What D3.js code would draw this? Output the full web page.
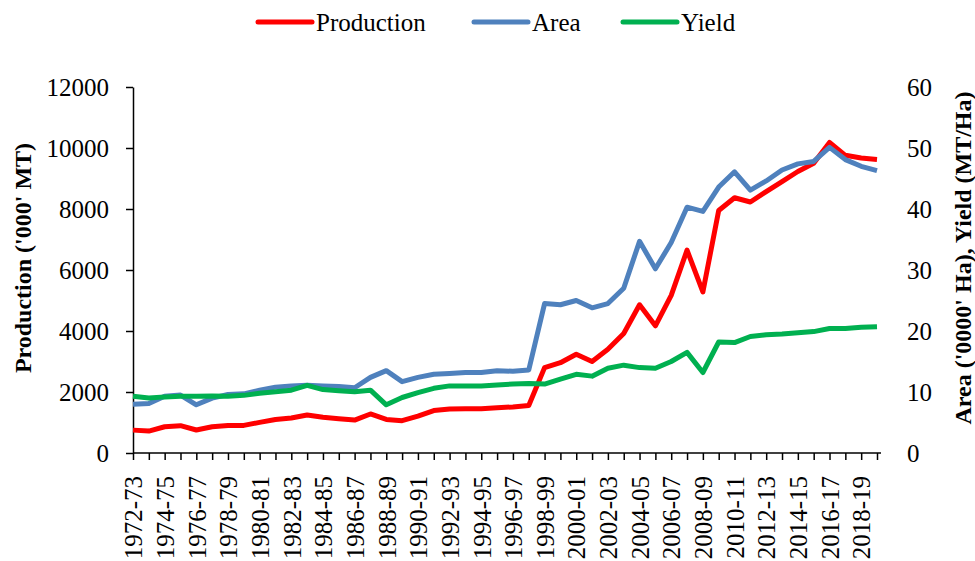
<!DOCTYPE html>
<html>
<head>
<meta charset="utf-8">
<script src="https://cdn.jsdelivr.net/npm/d3@7"></script>
<style>
  body { margin: 0; background: #fff; }
  text { font-family: "Liberation Serif", "Times New Roman", serif; fill: #000; }
</style>
</head>
<body>
<svg id="canvas"></svg>
<script>
// Category labels (crop years).
var years = [
  '1972-73', '1973-74', '1974-75', '1975-76', '1976-77', '1977-78', '1978-79', '1979-80',
  '1980-81', '1981-82', '1982-83', '1983-84', '1984-85', '1985-86', '1986-87', '1987-88',
  '1988-89', '1989-90', '1990-91', '1991-92', '1992-93', '1993-94', '1994-95', '1995-96',
  '1996-97', '1997-98', '1998-99', '1999-00', '2000-01', '2001-02', '2002-03', '2003-04',
  '2004-05', '2005-06', '2006-07', '2007-08', '2008-09', '2009-10', '2010-11', '2011-12',
  '2012-13', '2013-14', '2014-15', '2015-16', '2016-17', '2017-18', '2018-19', '2019-20'
];

// Production ('000' MT), left axis.
var production = [
  750, 720, 860, 895, 755, 860, 905, 905, 1005, 1100, 1145, 1245, 1170, 1125, 1080, 1280,
  1100, 1060, 1210, 1390, 1440, 1450, 1450, 1480, 1510, 1560, 2800, 2960, 3240, 3000, 3400, 3920,
  4860, 4170, 5170, 6650, 5280, 7950, 8370, 8230, 8570, 8900, 9230, 9500, 10180, 9760, 9670, 9620
];

// Area ('0000' Ha), right axis.
var area = [
  8.0, 8.1, 9.3, 9.5, 7.9, 9.0, 9.6, 9.7, 10.3, 10.8, 11.0, 11.1, 11.0, 10.9, 10.7, 12.4,
  13.5, 11.7, 12.4, 12.9, 13.05, 13.2, 13.2, 13.5, 13.4, 13.6, 24.5, 24.3, 25.0, 23.8, 24.5, 27.0,
  34.7, 30.2, 34.5, 40.3, 39.6, 43.6, 46.1, 43.1, 44.6, 46.4, 47.4, 47.8, 50.1, 48.1, 47.0, 46.3
];

// Yield (MT/Ha), right axis.
var yieldValues = [
  9.3, 9.0, 9.2, 9.3, 9.3, 9.35, 9.3, 9.45, 9.8, 10.05, 10.3, 11.1, 10.4, 10.2, 10.05, 10.3,
  7.9, 9.1, 9.9, 10.6, 11.0, 11.0, 11.0, 11.15, 11.3, 11.4, 11.3, 12.1, 12.9, 12.6, 13.9, 14.4,
  14.0, 13.9, 15.0, 16.5, 13.2, 18.2, 18.1, 19.1, 19.4, 19.5, 19.7, 19.9, 20.4, 20.4, 20.6, 20.7
];

// Axis tick values.
var leftTicks = [0, 2000, 4000, 6000, 8000, 10000, 12000];
var rightTicks = [0, 10, 20, 30, 40, 50, 60];

// Series names and colours.
var seriesNames = ['Production', 'Area', 'Yield'];
var seriesColors = ['#ff0000', '#4f81bd', '#00b050'];

// Canvas dimensions.
var canvasWidth = 975;
var canvasHeight = 561;

// Plot area.
var plotLeft = 133;
var plotRight = 877;
var plotTop = 87;
var plotBottom = 453;

var svg = d3.select('#canvas')
            .attr('width', canvasWidth)
            .attr('height', canvasHeight);

var translation = function(x, y) {
  return 'translate(' + x + ',' + y + ')';
};

// Scales.
var xScale = d3.scalePoint()
               .domain(years)
               .range([plotLeft, plotRight]);

var yLeft = d3.scaleLinear()
              .domain([0, 12000])
              .range([plotBottom, plotTop]);

var yRight = d3.scaleLinear()
               .domain([0, 60])
               .range([plotBottom, plotTop]);

// Left axis.
var leftAxis = svg.append('g')
                  .attr('transform', translation(plotLeft, 0))
                  .call(d3.axisLeft(yLeft)
                          .tickValues(leftTicks)
                          .tickFormat(d3.format('d'))
                          .tickSize(7)
                          .tickPadding(17)
                          .tickSizeOuter(0));
leftAxis.select('.domain').attr('stroke', '#000').attr('stroke-width', 1.5);
leftAxis.selectAll('.tick line').attr('stroke', '#000').attr('stroke-width', 1.5);
leftAxis.selectAll('.tick text').style('font-size', '25px').attr('dy', '0.35em');

// Right axis (labels only).
var rightAxis = svg.append('g')
                   .attr('transform', translation(plotRight, 0))
                   .call(d3.axisRight(yRight).tickValues(rightTicks).tickSize(0).tickPadding(30));
rightAxis.select('.domain').remove();
rightAxis.selectAll('.tick text').style('font-size', '25px').attr('dy', '0.35em');

// Bottom axis with every other label.
var xAxis = svg.append('g')
               .attr('transform', translation(0, plotBottom))
               .call(d3.axisBottom(xScale)
                       .tickSize(7)
                       .tickSizeOuter(0)
                       .tickFormat(function(d, i) { return i % 2 == 0 ? d : ''; }));
xAxis.select('.domain').attr('stroke', '#000').attr('stroke-width', 1.5)
     .attr('d', 'M' + plotLeft + ',0H' + (plotRight + 4));
xAxis.selectAll('.tick line').attr('stroke', '#000').attr('stroke-width', 1.5);
xAxis.selectAll('.tick text')
     .style('font-size', '25px')
     .attr('text-anchor', 'end')
     .attr('transform', 'rotate(-90)')
     .attr('x', -23)
     .attr('y', 0)
     .attr('dy', '0.35em');

// Axis titles.
svg.append('text')
   .attr('transform', translation(31, 258) + ' rotate(-90)')
   .attr('text-anchor', 'middle')
   .style('font-size', '24px')
   .style('font-weight', 'bold')
   .text("Production ('000' MT)");

svg.append('text')
   .attr('transform', translation(971, 258) + ' rotate(-90)')
   .attr('text-anchor', 'middle')
   .style('font-size', '24px')
   .style('font-weight', 'bold')
   .text("Area ('0000' Ha), Yield (MT/Ha)");

// Lines.
var lineLeft = d3.line()
                 .x(function(d, i) { return xScale(years[i]); })
                 .y(function(d) { return yLeft(d); });

var lineRight = d3.line()
                  .x(function(d, i) { return xScale(years[i]); })
                  .y(function(d) { return yRight(d); });

var seriesPaths = [lineLeft(production), lineRight(area), lineRight(yieldValues)];

// Draw order: production, area, yield (yield on top).
for (var s = 0; s < 3; s++) {
  svg.append('path')
     .attr('d', seriesPaths[s])
     .attr('fill', 'none')
     .attr('stroke', seriesColors[s])
     .attr('stroke-width', 5)
     .attr('stroke-linejoin', 'round');
}

// Legend.
var legendX = [258, 474, 623];
var legendY = 22;
var legend = svg.append('g');
for (var k = 0; k < 3; k++) {
  legend.append('line')
        .attr('x1', legendX[k])
        .attr('x2', legendX[k] + 54)
        .attr('y1', legendY)
        .attr('y2', legendY)
        .attr('stroke', seriesColors[k])
        .attr('stroke-width', 5)
        .attr('stroke-linecap', 'round');
  legend.append('text')
        .attr('x', legendX[k] + 58)
        .attr('y', legendY)
        .attr('dy', '0.35em')
        .style('font-size', '25px')
        .text(seriesNames[k]);
}
</script>
</body>
</html>
